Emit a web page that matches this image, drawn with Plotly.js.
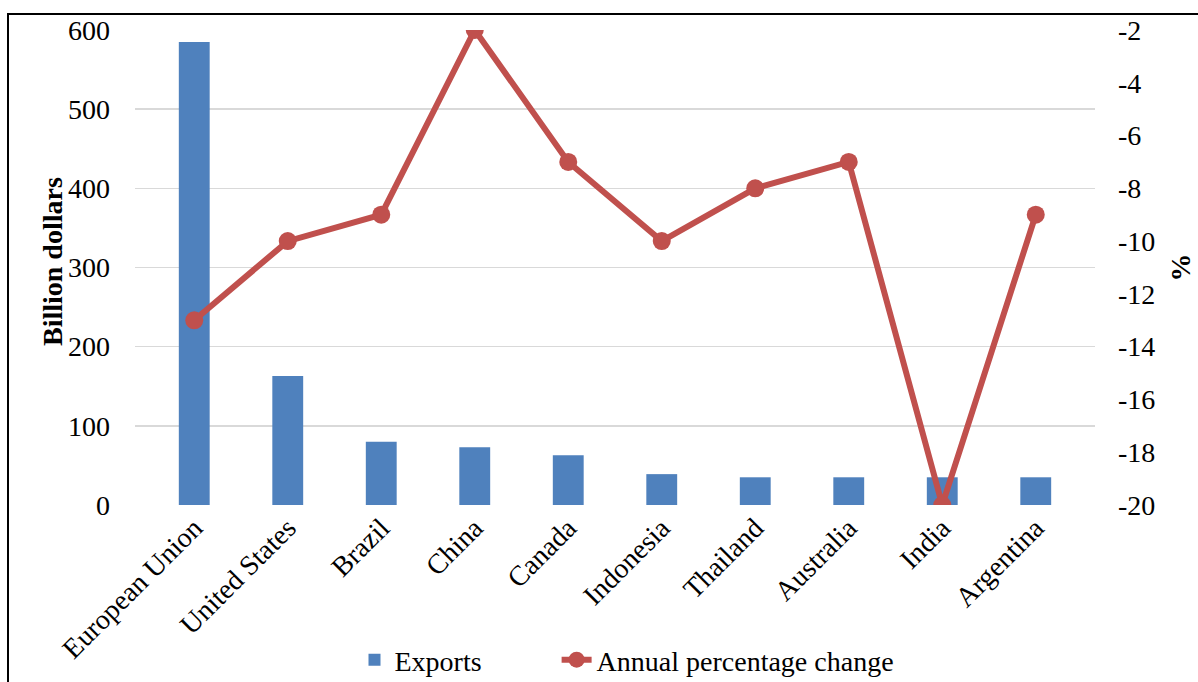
<!DOCTYPE html>
<html>
<head>
<meta charset="utf-8">
<script src="https://cdn.plot.ly/plotly-3.0.1.min.js"></script>
<style>html,body{margin:0;padding:0;background:#fff;}#chart{width:1198px;height:682px;}</style>
</head>
<body>
<div id="chart"></div>
<script>
const categories = ["European Union","United States","Brazil","China","Canada","Indonesia","Thailand","Australia","India","Argentina"];
const exports = [585, 163, 80, 73, 63, 39, 35, 35, 35, 35];
const annualChange = [-13, -10, -9, -2, -7, -10, -8, -7, -20, -9];
const leftTicks = [0, 100, 200, 300, 400, 500, 600];
const rightTicks = [-20, -18, -16, -14, -12, -10, -8, -6, -4, -2];
const rightTickText = ["-20","-18","-16","-14","-12","-10","-8","-6","-4","-2"];

const font = "'Liberation Serif', 'Times New Roman', serif";
const fs = 28;

const traces = [
  {
    type: 'bar', name: 'Exports' + '&nbsp;'.repeat(10), x: categories, y: exports,
    marker: {color: '#4f81bd', line: {width: 0}},
    width: 0.33, yaxis: 'y'
  },
  {
    type: 'scatter', mode: 'lines+markers', name: 'Annual percentage change',
    x: categories, y: annualChange, yaxis: 'y2',
    line: {color: '#c0504d', width: 6},
    marker: {color: '#c0504d', size: 18}
  }
];

const pxX = p => (p - 135) / 960;
const pxY = p => (505 - p) / 475;

const layout = {
  width: 1198, height: 682,
  margin: {l: 135, r: 103, t: 30, b: 177},
  paper_bgcolor: '#fff', plot_bgcolor: '#fff',
  font: {family: font, size: fs, color: '#000'},
  showlegend: true,
  legend: {orientation: 'h', x: 0.5 + 12 / 960, xanchor: 'center', yref: 'container', y: (682 - 660) / 682, yanchor: 'middle',
           font: {family: font, size: fs}, traceorder: 'normal', bgcolor: 'rgba(0,0,0,0)'},
  xaxis: {tickangle: -45, showgrid: false, zeroline: false, showline: false, ticks: '',
          tickfont: {family: font, size: fs}, automargin: false},
  yaxis: {range: [0, 600], tickvals: leftTicks, showgrid: true, gridcolor: '#d9d9d9', gridwidth: 1.5,
          zeroline: false, showline: false, ticks: '', tickfont: {family: font, size: fs},
          ticklabelstandoff: 24, automargin: false},
  yaxis2: {overlaying: 'y', side: 'right', range: [-20, -2], tickvals: rightTicks, ticktext: rightTickText,
           showgrid: false, zeroline: false, showline: false, ticks: '', tickfont: {family: font, size: fs},
           ticklabelstandoff: 22, automargin: false,
           title: {text: '<b>%</b>', font: {family: font, size: fs}, standoff: 16}},
  annotations: [
    {text: '<b>Billion dollars</b>', xref: 'paper', yref: 'paper', x: pxX(52), y: pxY(262),
     xanchor: 'center', yanchor: 'middle', textangle: -90, showarrow: false,
     font: {family: font, size: fs, color: '#000'}}
  ],
  shapes: [
    {type: 'rect', xref: 'paper', yref: 'paper', x0: pxX(8), x1: pxX(1210), y0: pxY(14), y1: pxY(700),
     line: {color: '#000', width: 2}, fillcolor: 'rgba(0,0,0,0)', layer: 'below'}
  ]
};

Plotly.newPlot('chart', traces, layout, {staticPlot: true});
</script>
</body>
</html>
